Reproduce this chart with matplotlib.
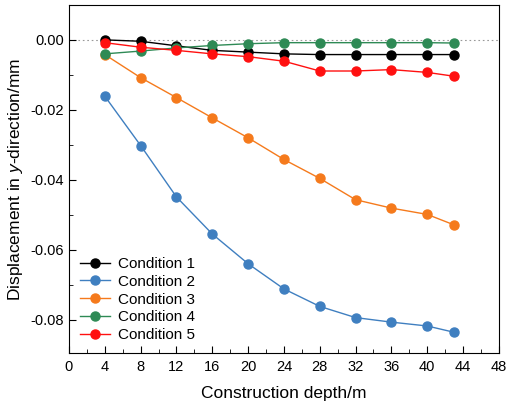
import numpy as np
import matplotlib.pyplot as plt
from matplotlib.ticker import MultipleLocator, FormatStrFormatter

plt.rcParams['font.family'] = ['Liberation Sans', 'DejaVu Sans']
plt.rcParams['mathtext.fontset'] = 'custom'
plt.rcParams['mathtext.it'] = 'Liberation Sans:italic'
plt.rcParams['mathtext.rm'] = 'Liberation Sans'

depth = [4, 8, 12, 16, 20, 24, 28, 32, 36, 40, 43]
cond1 = [0.0, -0.0004, -0.0017, -0.0030, -0.0035, -0.0040, -0.0042, -0.0042, -0.0042, -0.0042, -0.0042]
cond2 = [-0.0161, -0.0302, -0.0449, -0.0555, -0.0640, -0.0712, -0.0762, -0.0794, -0.0807, -0.0818, -0.0836]
cond3 = [-0.0042, -0.0108, -0.0165, -0.0223, -0.0280, -0.0342, -0.0396, -0.0457, -0.0481, -0.0499, -0.0529]
cond4 = [-0.0040, -0.0032, -0.0023, -0.0016, -0.0011, -0.0008, -0.0008, -0.0008, -0.0008, -0.0008, -0.0009]
cond5 = [-0.0008, -0.0021, -0.0030, -0.0040, -0.0048, -0.0061, -0.0089, -0.0089, -0.0085, -0.0093, -0.0104]

labels = ['Condition 1', 'Condition 2', 'Condition 3', 'Condition 4', 'Condition 5']
colors = ['#000000', '#3f7fc0', '#f57a1c', '#2e8a55', '#ff1010']

fig = plt.figure(figsize=(5.07, 4.08), dpi=100)
ax = fig.add_axes([0.136, 0.135, 0.848, 0.853])

ax.axhline(0, color='#999999', lw=0.8, ls=(0, (1.5, 2.5)), zorder=1)

for ys, lab, c in zip([cond1, cond2, cond3, cond4, cond5], labels, colors):
    ax.plot(depth, ys, '-o', color=c, lw=1.0, ms=6.5, label=lab, zorder=3)

ax.set_xlim(0, 48)
ax.set_ylim(-0.0895, 0.01)
ax.xaxis.set_major_locator(MultipleLocator(4))
ax.xaxis.set_minor_locator(MultipleLocator(2))
ax.yaxis.set_major_locator(MultipleLocator(0.02))
ax.yaxis.set_minor_locator(MultipleLocator(0.01))
ax.yaxis.set_major_formatter(FormatStrFormatter('%.2f'))
ax.tick_params(which='both', direction='in', labelsize=10.5, top=False, right=False)
ax.tick_params(which='major', length=5)
ax.tick_params(which='minor', length=3)
ax.tick_params(axis='x', pad=5)

ax.set_xlabel('Construction depth/m', fontsize=12.5, labelpad=9)
ax.set_ylabel('Displacement in $\\it{y}$-direction/mm', fontsize=12.5, labelpad=4)

ax.legend(loc='lower left', frameon=False, fontsize=11, handlelength=2.0,
          labelspacing=0.25, borderaxespad=0.3, handletextpad=0.5,
          bbox_to_anchor=(0.0, 0.0))

fig.savefig('out.png', dpi=100)
